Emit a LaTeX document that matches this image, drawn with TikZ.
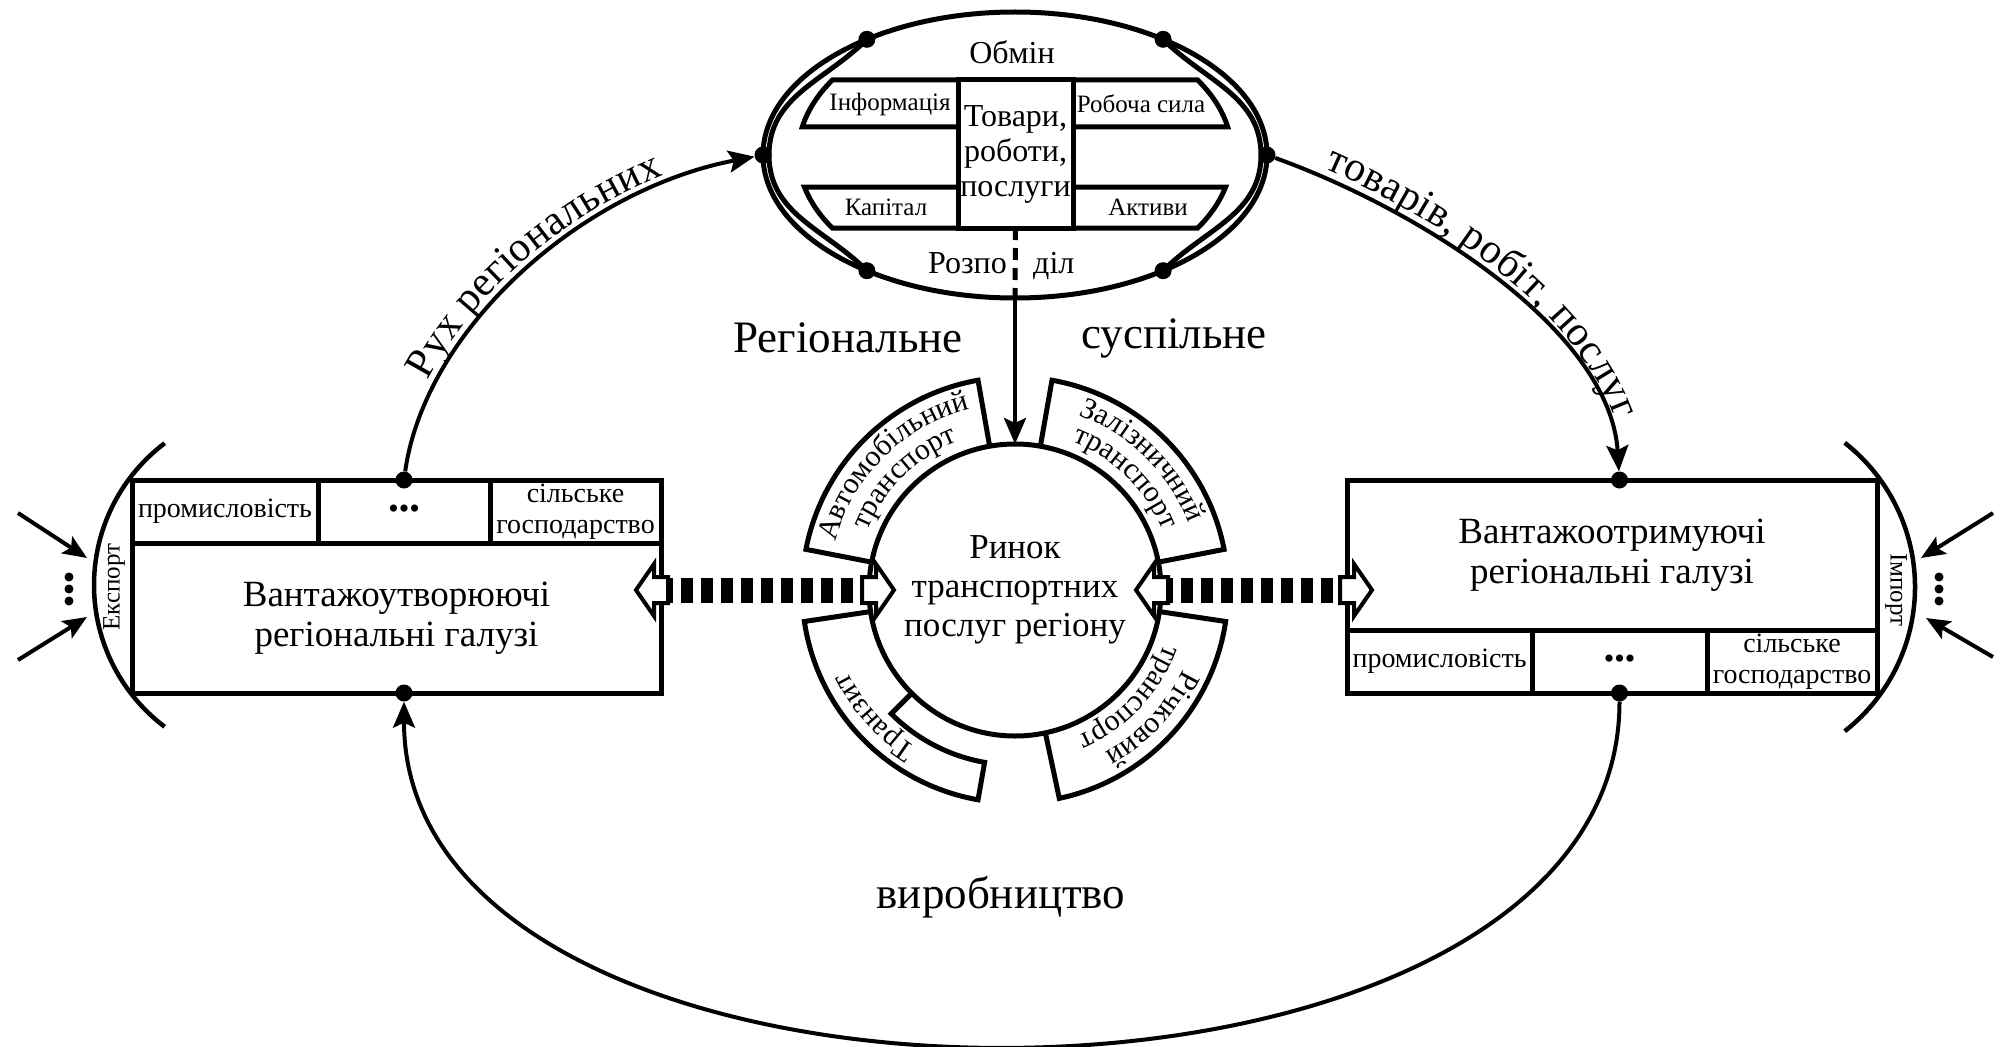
\documentclass[tikz,border=0pt]{standalone}
\usepackage{fontspec}
\setmainfont{Liberation Serif}
\usetikzlibrary{arrows.meta,calc,shapes.geometric,decorations.text}

\newcommand\bigtxt{\fontsize{42}{46}\selectfont}
\newcommand\ringtxt{\fontsize{30}{31}\selectfont}

\tikzset{
  frame/.style={line width=5pt, line join=miter},
  box/.style={draw, frame, rectangle, inner sep=0pt, outer sep=0pt, align=center},
  maintxt/.style={font=\fontsize{37}{40}\selectfont, align=center},
  labeltxt/.style={font=\fontsize{45}{48}\selectfont},
  midtxt/.style={font=\fontsize{32}{35}\selectfont, align=center, inner sep=0pt},
  celltxt/.style={font=\fontsize{25}{28}\selectfont, align=center, inner sep=0pt},
  headtxt/.style={font=\fontsize{28}{31}\selectfont, align=center, inner sep=0pt},
  cellbox/.style={box, headtxt, minimum height=63pt},
  dot/.style={circle, fill=black, inner sep=0pt, minimum size=17pt},
  flow/.style={line width=4pt, -{Stealth[length=26pt, width=22pt, inset=5pt]}},
  inarrow/.style={line width=4pt, -{Stealth[length=24pt, width=20pt, inset=5pt]}},
  bigdash/.style={line width=25pt, dash pattern=on 12pt off 8pt},
  hollow/.pic={\draw[line width=4pt, fill=white, line join=miter]
    (0,-13) -- (14,-13) -- (14,-26) -- (32,0) -- (14,26) -- (14,13) -- (0,13) -- cycle;},
}

\begin{document}
\begin{tikzpicture}[x=1pt,y=1pt]
\useasboundingbox (0,0) rectangle (2001,-1046);

%Shape: exchange ellipse
\node[ellipse, draw, frame, minimum width=504pt, minimum height=286pt, inner sep=0pt, outer sep=0pt] (exch) at (1015,-155) {};
\coordinate (lensL) at (769,-155);
\coordinate (lensR) at (1261,-155);
\draw[frame] (exch.142) to[out=225,in=90] (lensL) to[out=270,in=135] (exch.218);
\draw[frame] (exch.38) to[out=-45,in=90] (lensR) to[out=270,in=45] (exch.-38);

%Shape: bars inside the ellipse
\draw[frame] (958,-80) -- (832.4,-80) arc[start angle=147.3, end angle=168.6, x radius=217, y radius=137] -- (958,-127);
\draw[frame] (958,-187) -- (804.4,-187) arc[start angle=193.9, end angle=212.7, x radius=217, y radius=137] -- (958,-228);
\draw[frame] (1073,-80) -- (1197.6,-80) arc[start angle=32.7, end angle=11.4, x radius=217, y radius=137] -- (1073,-127);
\draw[frame] (1073,-187) -- (1225.6,-187) arc[start angle=-13.9, end angle=-32.7, x radius=217, y radius=137] -- (1073,-228);
\node[box, midtxt, minimum width=115pt, minimum height=148pt] (goods) at (1015.5,-154) {Товари,\\роботи,\\послуги};
\draw[frame, dash pattern=on 12pt off 8pt] (goods.south) -- (exch.south);

% Text Node
\node[midtxt] (obmin) at (1012,-52) {Обмін};
\node[midtxt, anchor=base east] (rozpo) at (1007,-273) {Розпо};
\node[midtxt, anchor=base west] (dil) at (1033,-273) {діл};
\node[celltxt] (info) at (890,-104) {Інформація};
\node[celltxt] (capt) at (886,-207) {Капітал};
\node[celltxt] (labr) at (1141,-104) {Робоча сила};
\node[celltxt] (asst) at (1148,-207) {Активи};

\foreach \a/\n in {142/tl,38/tr,218/bl,322/br}
  \node[dot] (exch\n) at (exch.\a) {};
\node[dot] (exchL) at (exch.west) {};
\node[dot] (exchR) at (exch.east) {};

%Shape: freight-generating branches
\node[box, maintxt, minimum width=529pt, minimum height=150pt] (src) at (396.5,-618) {Вантажоутворюючі\\регіональні галузі};
\node[cellbox, minimum width=186pt, anchor=south west] (srcA) at (src.north west) {промисловість};
\node[cellbox, minimum width=172pt, anchor=west] (srcB) at (srcA.east) {\fontsize{30}{30}\selectfont •••};
\node[cellbox, minimum width=171pt, anchor=west] (srcC) at (srcB.east) {сільське\\господарство};
\node[dot] (srcTop) at (srcB.north) {};
\node[dot] (srcBot) at (srcB.north |- src.south) {};

%Shape: freight-receiving branches
\node[box, maintxt, minimum width=530pt, minimum height=150pt] (dst) at (1612,-555) {Вантажоотримуючі\\регіональні галузі};
\node[cellbox, minimum width=185pt, anchor=north west] (dstA) at (dst.south west) {промисловість};
\node[cellbox, minimum width=175pt, anchor=west] (dstB) at (dstA.east) {\fontsize{30}{30}\selectfont •••};
\node[cellbox, minimum width=170pt, anchor=west] (dstC) at (dstB.east) {сільське\\господарство};
\node[dot] (dstTop) at (dstB.north |- dst.north) {};
\node[dot] (dstBot) at (dstB.south) {};

%Shape: export and import
\draw[line width=4.5pt] (271.5,-585) ++(127:177.5) arc[start angle=127, end angle=233, radius=177.5];
\draw[line width=4.5pt] (1732,-587) ++(52:183) arc[start angle=52, end angle=-52, radius=183];
\node[celltxt, rotate=90] (expt) at (114,-587) {Експорт};
\node[celltxt, rotate=-90] (impt) at (1896,-590) {Імпорт};
\coordinate (expA) at (18,-513); \coordinate (expAt) at (87,-558);
\coordinate (expB) at (18,-660); \coordinate (expBt) at (87,-617);
\coordinate (impA) at (1993,-513); \coordinate (impAt) at (1921,-558);
\coordinate (impB) at (1993,-657); \coordinate (impBt) at (1926,-618);
\draw[inarrow] (expA) -- (expAt);
\draw[inarrow] (expB) -- (expBt);
\draw[inarrow] (impA) -- (impAt);
\draw[inarrow] (impB) -- (impBt);
\foreach \y in {-601,-589,-577} {
  \fill (69,\y) circle (4.5);
  \fill (1939,\y) circle (4.5);
}

%Shape: transport market
\node[circle, draw, frame, minimum size=292pt, inner sep=0pt, outer sep=0pt, maintxt, font=\fontsize{35}{39}\selectfont] (mk) at (1015,-590) {Ринок\\транспортних\\послуг регіону};
\draw[frame] ($(mk)+(100:146)$) -- ($(mk)+(100:213)$) arc[start angle=100, end angle=169, radius=213] -- ($(mk)+(169:146)$);
\draw[frame] ($(mk)+(80:146)$) -- ($(mk)+(80:213)$) arc[start angle=80, end angle=11, radius=213] -- ($(mk)+(11:146)$);
\draw[frame] ($(mk)+(-8.5:146)$) -- ($(mk)+(-8.5:213)$) arc[start angle=-8.5, end angle=-78, radius=213] -- ($(mk)+(-78:146)$);
\draw[frame] ($(mk)+(188.5:146)$) -- ($(mk)+(188.5:213)$) arc[start angle=188.5, end angle=260, radius=213] -- ($(mk)+(260:175)$) arc[start angle=260, end angle=225, radius=175] -- ($(mk)+(225:146)$);
\path[decorate, decoration={text along path, text align=center, text={|\ringtxt|Автомобільний}}] ($(mk)+(169:186)$) arc[start angle=169, end angle=100, radius=186];
\path[decorate, decoration={text along path, text align=center, text={|\ringtxt|транспорт}}] ($(mk)+(169:159)$) arc[start angle=169, end angle=100, radius=159];
\path[decorate, decoration={text along path, text align=center, text={|\ringtxt|Залізничний}}] ($(mk)+(80:186)$) arc[start angle=80, end angle=11, radius=186];
\path[decorate, decoration={text along path, text align=center, text={|\ringtxt|транспорт}}] ($(mk)+(80:159)$) arc[start angle=80, end angle=11, radius=159];
\path[decorate, decoration={text along path, text align=center, text={|\ringtxt|Річковий}}] ($(mk)+(-8.5:186)$) arc[start angle=-8.5, end angle=-78, radius=186];
\path[decorate, decoration={text along path, text align=center, text={|\ringtxt|транспорт}}] ($(mk)+(-8.5:159)$) arc[start angle=-8.5, end angle=-78, radius=159];
\path[decorate, decoration={text along path, text align=center, text={|\ringtxt|Транзит}}] ($(mk)+(260:186)$) arc[start angle=260, end angle=184, radius=186];

%Connectors
\draw[flow] (exch.south) -- (mk.north);
\coordinate (srcR) at ([yshift=28pt]src.east);
\coordinate (dstL) at ([yshift=-35pt]dst.west);
\draw[bigdash] (srcR) -- (mk.west);
\draw[bigdash] (mk.east) -- (dstL);
\pic[rotate=180] at ([xshift=7pt]srcR) {hollow};
\pic at ([xshift=-7pt]mk.west) {hollow};
\pic[rotate=180] at ([xshift=7pt]mk.east) {hollow};
\pic at ([xshift=-7pt]dstL) {hollow};

\draw[flow] (srcTop) .. controls (425,-330) and (580,-190) .. (exchL);
\path[decorate, decoration={text along path, text align=center, raise=9pt, text={|\bigtxt|Рух регіональних}}] (srcTop.center) .. controls (425,-330) and (580,-190) .. (exchL.center);
\draw[flow] (exchR) .. controls (1420,-210) and (1610,-330) .. (dstTop);
\path[decorate, decoration={text along path, text align=center, raise=9pt, text={|\bigtxt|товарів, робіт, послуг}}] (exchR.center) .. controls (1420,-210) and (1610,-330) .. (dstTop.center);
\draw[flow] (dstBot) .. controls +(0,-467) and +(0,-467) .. (srcBot);

% Text Node
\node[labeltxt] (regl) at (848,-338) {Регіональне};
\node[labeltxt] (susp) at (1174,-338) {суспільне};
\node[labeltxt] (vyrob) at (1001,-897) {виробництво};

\end{tikzpicture}
\end{document}
